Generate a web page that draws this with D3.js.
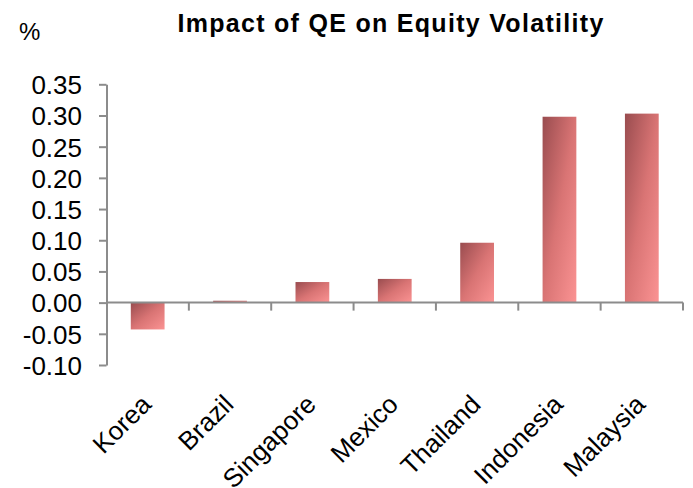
<!DOCTYPE html>
<html>
<head>
<meta charset="utf-8">
<script src="https://cdn.jsdelivr.net/npm/d3@7"></script>
<style>
  body { margin: 0; background: #fff; }
  svg text { font-family: "Liberation Sans", Arial, sans-serif; fill: #000; }
</style>
</head>
<body>
<div id="chart"></div>
<script>
// values
var countries = ["Korea", "Brazil", "Singapore", "Mexico", "Thailand", "Indonesia", "Malaysia"];
var impact = [-0.043, 0.003, 0.033, 0.038, 0.096, 0.298, 0.303];
var yTicks = [-0.10, -0.05, 0.00, 0.05, 0.10, 0.15, 0.20, 0.25, 0.30, 0.35];

var width = 693, height = 488;
var plotLeft = 106.5, plotRight = 683, plotTop = 84.3, plotBottom = 365;

var svg = d3.select("#chart").append("svg")
  .attr("width", width).attr("height", height);

var grad = svg.append("defs").append("linearGradient")
  .attr("id", "barfill")
  .attr("x1", 0).attr("y1", 0).attr("x2", 1).attr("y2", 1);
grad.append("stop").attr("offset", "0%").attr("stop-color", "#994c4f");
grad.append("stop").attr("offset", "50%").attr("stop-color", "#d97474");
grad.append("stop").attr("offset", "100%").attr("stop-color", "#fb9393");

var x = d3.scaleBand().domain(countries).range([plotLeft, plotRight]).paddingInner(0.59).paddingOuter(0.295);
var y = d3.scaleLinear().domain([-0.10, 0.35]).range([plotBottom, plotTop]);

// bars
svg.selectAll("rect.bar").data(impact).enter().append("rect")
  .attr("class", "bar")
  .attr("x", function(d, i) { return x(countries[i]); })
  .attr("width", x.bandwidth())
  .attr("y", function(d) { return y(Math.max(0, d)); })
  .attr("height", function(d) { return Math.abs(y(d) - y(0)); })
  .attr("fill", "url(#barfill)");

// y axis (plain hyphen for negatives, like the original)
var fmt = d3.format(".2f");
var yAxis = svg.append("g")
  .attr("transform", "translate(" + plotLeft + ",0)")
  .call(d3.axisLeft(y).tickValues(yTicks).tickSize(7.5).tickSizeOuter(0).tickPadding(17)
    .tickFormat(function(d) { return fmt(d).replace("\u2212", "-"); }));
yAxis.select(".domain").attr("stroke", "#8c8c8c").attr("stroke-width", 2);
yAxis.selectAll(".tick line").attr("stroke", "#8c8c8c").attr("stroke-width", 2);
yAxis.selectAll(".tick text").style("font-size", "26px").attr("dy", "0.36em");

// x axis at zero
var xTicks = d3.range(countries.length + 1).map(function(i) {
  return plotLeft + i * (plotRight - plotLeft) / countries.length;
});
svg.append("line")
  .attr("x1", plotLeft).attr("x2", plotRight)
  .attr("y1", y(0)).attr("y2", y(0))
  .attr("stroke", "#8c8c8c").attr("stroke-width", 2);
svg.selectAll("line.xt").data(xTicks.slice(1)).enter().append("line")
  .attr("class", "xt")
  .attr("x1", function(d) { return d; }).attr("x2", function(d) { return d; })
  .attr("y1", y(0)).attr("y2", y(0) + 8)
  .attr("stroke", "#8c8c8c").attr("stroke-width", 2);

// category labels, rotated
svg.selectAll("text.cat").data(countries).enter().append("text")
  .attr("class", "cat")
  .attr("text-anchor", "end")
  .style("font-size", "26px")
  .attr("transform", function(d) {
    var cx = x(d) + x.bandwidth() / 2 + 5;
    return "translate(" + cx + ",406) rotate(-45)";
  })
  .text(function(d) { return d; });

// title and unit
svg.append("text")
  .attr("x", 391).attr("y", 32)
  .attr("text-anchor", "middle")
  .style("font-size", "25px").style("font-weight", "bold")
  .style("letter-spacing", "1.3px")
  .text("Impact of QE on Equity Volatility");
svg.append("text")
  .attr("x", 19).attr("y", 40)
  .style("font-size", "24px")
  .text("%");
</script>
</body>
</html>
